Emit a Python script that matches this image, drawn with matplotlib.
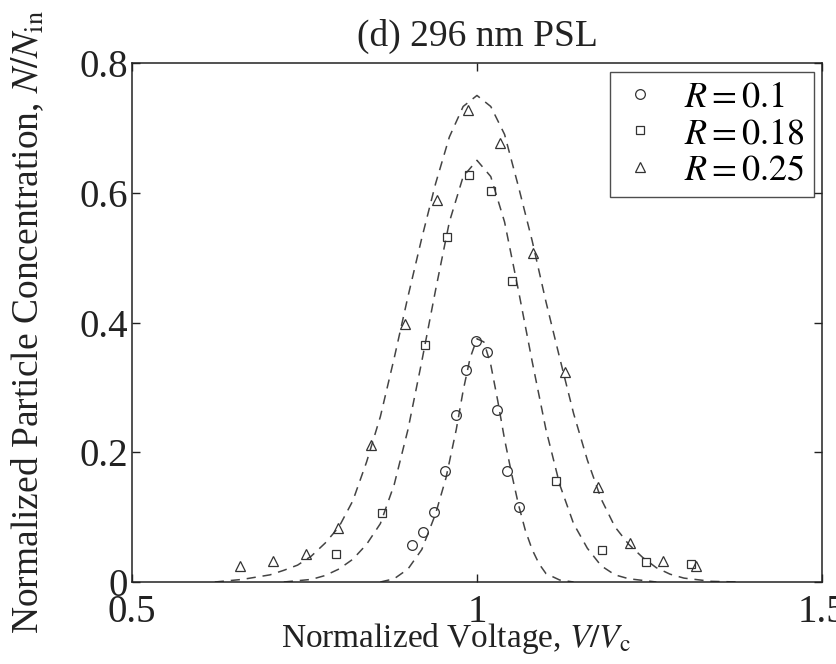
import matplotlib
matplotlib.use('Agg')
import matplotlib.pyplot as plt

x_r010 = [0.906, 0.922, 0.938, 0.953, 0.969, 0.984, 0.998, 1.014, 1.029, 1.043, 1.061]
y_r010 = [0.057, 0.077, 0.108, 0.171, 0.257, 0.327, 0.372, 0.355, 0.265, 0.171, 0.116]

x_r018 = [0.795, 0.862, 0.924, 0.956, 0.988, 1.020, 1.051, 1.115, 1.181, 1.245, 1.310]
y_r018 = [0.043, 0.106, 0.365, 0.532, 0.628, 0.602, 0.464, 0.156, 0.049, 0.031, 0.028]

x_r025 = [0.657, 0.704, 0.752, 0.798, 0.847, 0.895, 0.942, 0.987, 1.034, 1.081,
          1.127, 1.176, 1.222, 1.269, 1.317]
y_r025 = [0.025, 0.033, 0.043, 0.083, 0.211, 0.398, 0.589, 0.727, 0.677, 0.507,
          0.324, 0.147, 0.060, 0.033, 0.025]

# dashed fit curves
cx_r010 = [0.86, 0.88, 0.90, 0.92, 0.94, 0.955, 0.97, 0.98, 0.99, 1.00, 1.01,
           1.02, 1.03, 1.04, 1.05, 1.06, 1.07, 1.08, 1.09, 1.10, 1.12, 1.14]
cy_r010 = [0.0, 0.005, 0.020, 0.050, 0.105, 0.160, 0.235, 0.295, 0.345, 0.375, 0.370,
           0.335, 0.280, 0.220, 0.168, 0.120, 0.080, 0.050, 0.028, 0.013, 0.003, 0.0]

cx_r018 = [0.72, 0.76, 0.78, 0.80, 0.82, 0.84, 0.86, 0.88, 0.90, 0.92, 0.94, 0.96,
           0.98, 1.00, 1.02, 1.04, 1.06, 1.08, 1.10, 1.12, 1.14, 1.16, 1.18, 1.20,
           1.22, 1.26]
cy_r018 = [0.0, 0.004, 0.010, 0.020, 0.035, 0.058, 0.090, 0.150, 0.235, 0.340, 0.450,
           0.555, 0.625, 0.650, 0.625, 0.555, 0.450, 0.340, 0.235, 0.150, 0.090,
           0.052, 0.025, 0.011, 0.005, 0.0]

cx_r025 = [0.62, 0.66, 0.70, 0.72, 0.74, 0.76, 0.78, 0.80, 0.82, 0.84, 0.86, 0.88,
           0.90, 0.92, 0.94, 0.96, 0.98, 1.00, 1.02, 1.04, 1.06, 1.08, 1.10, 1.12,
           1.14, 1.16, 1.18, 1.20, 1.22, 1.24, 1.26, 1.28, 1.30, 1.34, 1.38]
cy_r025 = [0.0, 0.004, 0.011, 0.018, 0.026, 0.040, 0.060, 0.085, 0.125, 0.185, 0.255,
           0.345, 0.440, 0.530, 0.614, 0.686, 0.733, 0.750, 0.733, 0.690, 0.610,
           0.526, 0.432, 0.345, 0.260, 0.188, 0.128, 0.085, 0.058, 0.038, 0.022,
           0.012, 0.006, 0.001, 0.0]

labels = ['$R = 0.1$', '$R = 0.18$', '$R = 0.25$']
xticks = [0.5, 1.0, 1.5]
xticklabels = ['0.5', '1', '1.5']
yticks = [0, 0.2, 0.4, 0.6, 0.8]
yticklabels = ['0', '0.2', '0.4', '0.6', '0.8']

plt.rcParams['font.family'] = 'Liberation Serif'
plt.rcParams['mathtext.fontset'] = 'stix'

ink = '#333333'
fig = plt.figure(figsize=(8.37, 6.64), dpi=100)
ax = fig.add_axes([0.1577, 0.1235, 0.8243, 0.7816])

dash = dict(ls=(0, (6, 4.5)), lw=1.1, color='#444444')
for cx, cy in [(cx_r010, cy_r010), (cx_r018, cy_r018), (cx_r025, cy_r025)]:
    ax.plot(cx, cy, **dash)

mk = dict(ls='none', mfc='none', mec=ink, mew=0.9)
ax.plot(x_r010, y_r010, marker='o', ms=7, label=labels[0], **mk)
ax.plot(x_r018, y_r018, marker='s', ms=6.2, label=labels[1], **mk)
ax.plot(x_r025, y_r025, marker='^', ms=7.5, label=labels[2], **mk)

ax.set_xlim(0.5, 1.5)
ax.set_ylim(0, 0.8)
ax.set_xticks(xticks)
ax.set_xticklabels(xticklabels)
ax.set_yticks(yticks)
ax.set_yticklabels(yticklabels)
ax.tick_params(direction='in', length=6, width=1, labelsize=28, colors='#222222',
               top=True, right=True)
ax.tick_params(axis='y', pad=3)
ax.tick_params(axis='x', pad=9)
for s in ax.spines.values():
    s.set_linewidth(1.1)
    s.set_color('#222222')

ax.set_title('(d) 296 nm PSL', fontsize=27, color='#222222', pad=12)
ax.set_xlabel('Normalized Voltage, $V/V_{\\mathrm{c}}$', fontsize=24, color='#222222')
ax.xaxis.set_label_coords(0.47, -0.075)
ax.set_ylabel('Normalized Particle Concentration, $N/N_{\\mathrm{in}}$', fontsize=27,
              color='#222222')
ax.yaxis.set_label_coords(-0.125, 0.5)

leg = ax.legend(loc='upper right', bbox_to_anchor=(0.988, 0.983), borderaxespad=0,
                fontsize=26, frameon=True, fancybox=False, handletextpad=0.6,
                labelspacing=0.1, borderpad=0.25, handlelength=1.2)
leg.get_frame().set_edgecolor('#222222')
leg.get_frame().set_linewidth(1.0)

fig.savefig('out.png', dpi=100)
